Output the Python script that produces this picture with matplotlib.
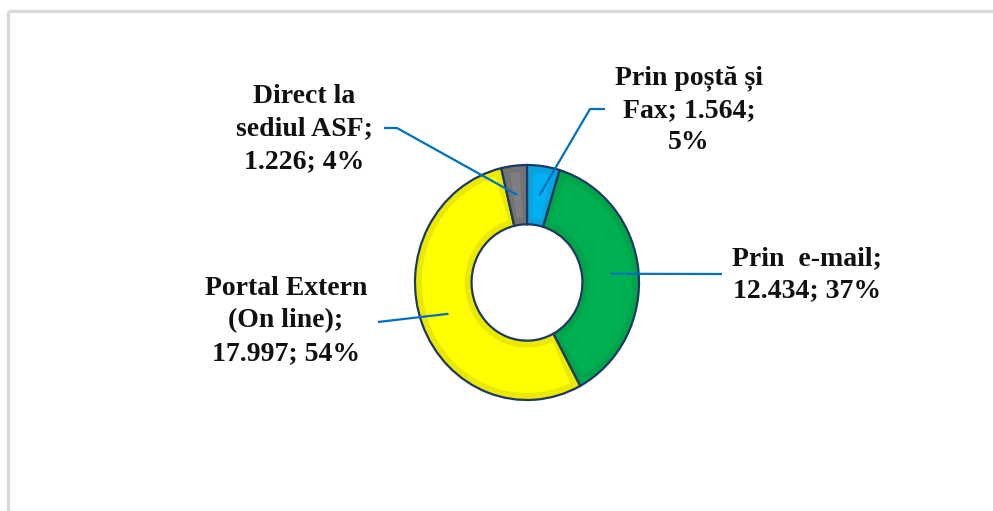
import numpy as np
import matplotlib
matplotlib.use("Agg")
import matplotlib.pyplot as plt
from matplotlib.patches import Wedge
from matplotlib.transforms import Affine2D

# =========================
# DATA
# =========================
names = ["Prin poștă și\nFax", "Prin  e-mail", "Portal Extern\n(On line)", "Direct la\nsediul ASF"]
values = [1564, 12434, 17997, 1226]
sep_name = ["; ", ";\n", ";\n", ";\n"]
sep_val = [";\n", "; ", "; ", "; "]

colors = ["#00B0F0", "#00B050", "#FFFF00", "#7F7F7F"]
shades = ["#0AA3DE", "#00A449", "#EAEA00", "#737373"]

# label layout (pixels): text centre, elbow, end of leader
label_pos = [(689, 110), (807, 275), (286, 321), (304, 129)]
elbow = [(590, 109), (722, 274), (378, 322), (397, 128)]
leader_end = [(605, 109), (722, 274), (378, 322), (384, 128)]

# =========================
# FIGURE
# =========================
W, H = 993, 511
fig = plt.figure(figsize=(W / 100, H / 100), dpi=100)
ax = fig.add_axes([0, 0, 1, 1])
ax.set_xlim(0, W)
ax.set_ylim(H, 0)
ax.axis("off")

# frame (left + top only visible)
ax.plot([8, 8], [H, 11.5], color="#d9d9d9", lw=2.4, solid_capstyle="butt")
ax.plot([8, W], [11.5, 11.5], color="#d9d9d9", lw=2.4, solid_capstyle="butt")

# donut in unit coords -> pixels
cx, cy, rx, ry = 527, 282.5, 112, 117.5
donut = Affine2D().scale(rx, -ry).translate(cx, cy) + ax.transData

r_out = 1.0
ring = 0.505
bev = 0.06
total = sum(values)
fracs = [v / total for v in values]

start = 90.0
mids = []
for i, f in enumerate(fracs):
    t2 = start
    t1 = start - 360 * f
    mids.append(np.deg2rad((t1 + t2) / 2))
    ax.add_patch(Wedge((0, 0), r_out, t1, t2, width=ring, facecolor=shades[i],
                       edgecolor="none", transform=donut))
    dt = 4.0
    ax.add_patch(Wedge((0, 0), r_out - bev, t1 + dt, t2 - dt, width=ring - 2 * bev,
                       facecolor=colors[i], edgecolor="none", transform=donut))
    ax.add_patch(Wedge((0, 0), r_out, t1, t2, width=ring, fill=False,
                       edgecolor="#203864", lw=1.6, transform=donut))
    start = t1

# =========================
# LABELS + LEADERS
# =========================
for i in range(len(values)):
    a = mids[i]
    px = cx + rx * 0.75 * np.cos(a)
    py = cy - ry * 0.75 * np.sin(a)
    ax.plot([px, elbow[i][0], leader_end[i][0]], [py, elbow[i][1], leader_end[i][1]],
            color="#0070C0", lw=1.6, solid_capstyle="butt")

    val = f"{values[i]:,}".replace(",", ".")
    pct = f"{round(fracs[i] * 100)}%"
    txt = names[i] + sep_name[i] + val + sep_val[i] + pct
    ax.text(label_pos[i][0], label_pos[i][1], txt, ha="center", va="center",
            fontsize=20, fontweight="bold", family="Liberation Serif",
            color="#111111", linespacing=1.38)

fig.savefig("out.png", dpi=100)
